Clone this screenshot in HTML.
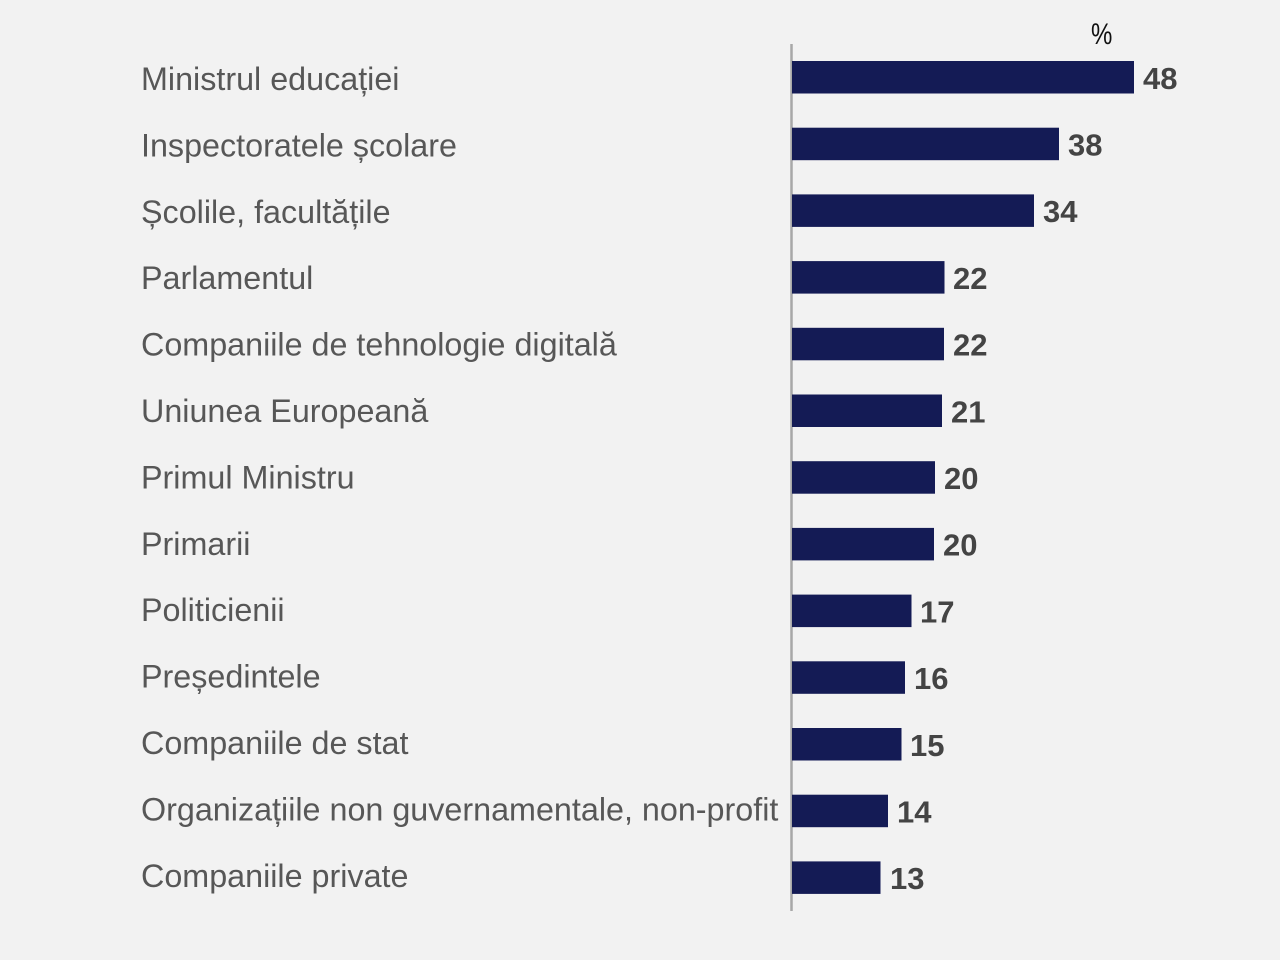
<!DOCTYPE html>
<html>
<head>
<meta charset="utf-8">
<style>
  html, body { margin: 0; padding: 0; background: #f2f2f2; }
  svg { display: block; }
  .lbl { font-family: "Liberation Sans", Arial, sans-serif; font-size: 32.3px; fill: #575757; }
  .val { font-family: "Liberation Sans", Arial, sans-serif; font-size: 31px; font-weight: bold; fill: #444444; }
</style>
</head>
<body>
<svg width="1280" height="960" viewBox="0 0 1280 960" xmlns="http://www.w3.org/2000/svg">
  <rect x="0" y="0" width="1280" height="960" fill="#f2f2f2"/>

  <text transform="translate(1091,44) scale(0.8,1)" font-family="Liberation Sans, Arial, sans-serif" font-size="30" fill="#111">%</text>

  <line x1="791.5" y1="44" x2="791.5" y2="911" stroke="#a8a8a8" stroke-width="2.5"/>

  <g fill="#141b55">
    <rect x="792" y="61" width="342" height="32.5"/>
    <rect x="792" y="127.7" width="267" height="32.5"/>
    <rect x="792" y="194.4" width="242" height="32.5"/>
    <rect x="792" y="261.1" width="152.5" height="32.5"/>
    <rect x="792" y="327.8" width="152" height="32.5"/>
    <rect x="792" y="394.5" width="150" height="32.5"/>
    <rect x="792" y="461.2" width="143" height="32.5"/>
    <rect x="792" y="527.9" width="142" height="32.5"/>
    <rect x="792" y="594.6" width="119.5" height="32.5"/>
    <rect x="792" y="661.3" width="113" height="32.5"/>
    <rect x="792" y="728" width="109.5" height="32.5"/>
    <rect x="792" y="794.7" width="96" height="32.5"/>
    <rect x="792" y="861.4" width="88.5" height="32.5"/>
  </g>

  <g class="val">
    <text x="1143" y="89">48</text>
    <text x="1068" y="155.5">38</text>
    <text x="1043" y="222.2">34</text>
    <text x="953" y="288.9">22</text>
    <text x="953" y="355.6">22</text>
    <text x="951" y="422.3">21</text>
    <text x="944" y="489">20</text>
    <text x="943" y="555.7">20</text>
    <text x="920" y="622.4">17</text>
    <text x="914" y="689.1">16</text>
    <text x="910" y="755.8">15</text>
    <text x="897" y="822.5">14</text>
    <text x="890" y="889.2">13</text>
  </g>

  <g class="lbl">
    <text x="141" y="90">Ministrul educației</text>
    <text x="141" y="156.4">Inspectoratele școlare</text>
    <text x="141" y="222.8">Școlile, facultățile</text>
    <text x="141" y="289.2">Parlamentul</text>
    <text x="141" y="355.6">Companiile de tehnologie digitală</text>
    <text x="141" y="422">Uniunea Europeană</text>
    <text x="141" y="488.4">Primul Ministru</text>
    <text x="141" y="554.8">Primarii</text>
    <text x="141" y="621.2">Politicienii</text>
    <text x="141" y="687.6">Președintele</text>
    <text x="141" y="754">Companiile de stat</text>
    <text x="141" y="820.4">Organizațiile non guvernamentale, non-profit</text>
    <text x="141" y="886.8">Companiile private</text>
  </g>
</svg>
</body>
</html>
